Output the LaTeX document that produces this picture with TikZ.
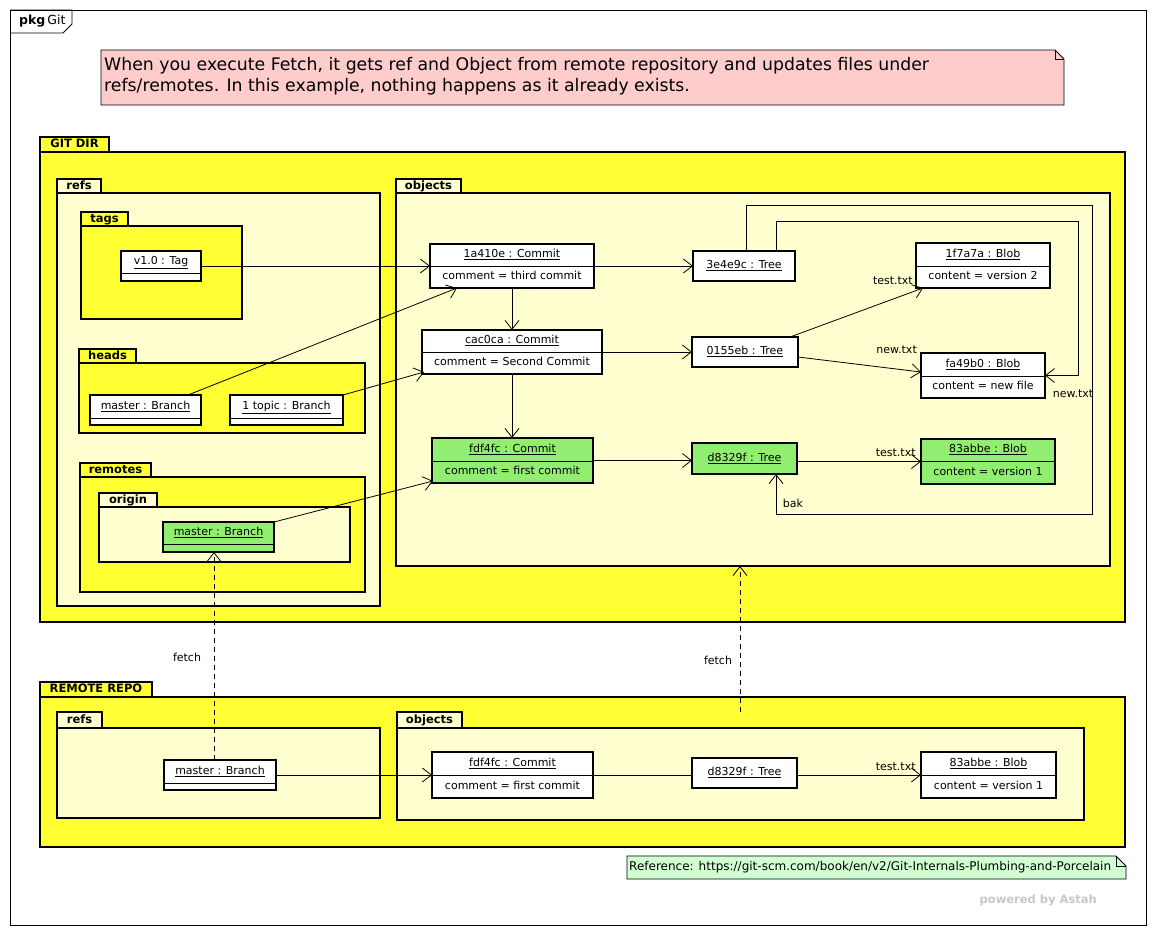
\documentclass[tikz,border=0pt]{standalone}
\usepackage{fontspec}
\setmainfont{DejaVu Sans}
\usetikzlibrary{arrows.meta,calc}
\definecolor{pyel}{RGB}{255,255,51}
\definecolor{plight}{RGB}{255,255,208}
\definecolor{ogreen}{RGB}{145,238,112}
\definecolor{npink}{RGB}{255,204,204}
\definecolor{ngreen}{RGB}{210,255,210}
\tikzset{
 pkgbody/.style={draw, line width=2pt, inner sep=0pt, outer sep=0pt, anchor=north west},
 pkgtab/.style={draw, line width=2pt, inner sep=0pt, outer sep=0pt, anchor=south west, text height=8.5pt, text depth=2pt, font=\fontsize{11.5}{13}\selectfont\bfseries},
 objbox/.style={draw, line width=1.6pt, inner sep=0pt, outer sep=0pt, anchor=north west},
 objtxt/.style={font=\fontsize{11}{13}\selectfont, inner sep=0pt, text height=8pt, text depth=2.5pt},
 conn/.style={line width=0.8pt},
 arr/.style={conn, -{Straight Barb[length=9pt,width=14pt]}},
 fetcharr/.style={arr, dash pattern=on 5pt off 4pt},
 lbl/.style={font=\fontsize{11}{13}\selectfont, inner sep=0pt},
 notebox/.style={draw, line width=0.8pt},
}
% #1 name, #2 fill, #3 x1, #4 ytab, #5 xtab2, #6 ybody, #7 x2, #8 y2, #9 label
\newcommand{\upkg}[9]{%
 \node[pkgtab, fill=#2, minimum width={#5-#3}, minimum height={#6-#4}] (#1tab) at (#3,#6) {#9};
 \node[pkgbody, fill=#2, minimum width={#7-#3}, minimum height={#8-#6}] (#1) at (#3,#6) {};
}
% #1 name, #2 fill, #3 x1, #4 y1, #5 x2, #6 y2, #7 ydiv, #8 title, #9 attribute
\newcommand{\uobj}[9]{%
 \node[objbox, fill=#2, minimum width={#5-#3}, minimum height={#6-#4}] (#1) at (#3,#4) {};
 \draw[line width=1pt] (#3,#7) -- (#5,#7);
 \node[objtxt] (#1n) at ({(#3+#5)/2},{(#4+#7)/2}) {\underline{#8}};
 \node[objtxt] (#1a) at ({(#3+#5)/2},{(#7+#6)/2}) {#9};
}
\begin{document}
\begin{tikzpicture}[x=1pt,y=-1pt]
\fill[white] (0,0) rectangle (1157,935);
\useasboundingbox (0,0) rectangle (1157,935);
% frame
\draw[line width=0.8pt] (10,10) rectangle (1146,925);
\draw[line width=0.8pt] (10,10) -- (72,10) -- (72,24) -- (63,33) -- (10,33);
\node[anchor=west, inner sep=0pt, font=\fontsize{12.5}{14}\selectfont] (pkglbl) at (19,21.5) {\textbf{pkg}\,Git};
% top note
\draw[notebox, fill=npink] (101,50) -- (1055,50) -- (1064,59) -- (1064,105) -- (101,105) -- cycle;
\draw[line width=0.8pt] (1055,50) -- (1055,59) -- (1064,59);
\node[anchor=base west, inner sep=0pt, font=\fontsize{17.3}{21}\selectfont] (note1) at (104,70) {When you execute Fetch, it gets ref and Object from remote repository and updates files under};
\node[anchor=base west, inner sep=0pt, font=\fontsize{17.3}{21}\selectfont] (note2) at (104,91) {refs/remotes. In this example, nothing happens as it already exists.};
% GIT DIR packages
\upkg{gitdir}{pyel}{40}{137}{109}{152}{1125}{622}{GIT DIR}
\upkg{refsA}{plight}{57}{179}{101}{193}{380}{606}{refs}
\upkg{tags}{pyel}{81}{212}{128}{226}{242}{319}{tags}
\upkg{heads}{pyel}{79}{349}{136}{363}{365}{433}{heads}
\upkg{remotes}{pyel}{80}{463}{151}{477}{365}{592}{remotes}
\upkg{origin}{plight}{99}{493}{157}{507}{350}{562}{origin}
\upkg{objA}{plight}{396}{179}{461}{193}{1110}{566}{objects}
% REMOTE REPO packages
\upkg{remote}{pyel}{40}{682}{152}{697}{1125}{847}{REMOTE REPO}
\upkg{refsB}{plight}{57}{712}{102}{728}{380}{818}{refs}
\upkg{objB}{plight}{397}{712}{462}{728}{1084}{820}{objects}
% objects in GIT DIR
\uobj{vt}{white}{121}{251}{201}{281}{273}{v1.0 : Tag}{}
\uobj{mh}{white}{90}{395}{201}{425}{418}{master : Branch}{}
\uobj{tp}{white}{230}{395}{343}{425}{418}{1 topic : Branch}{}
\uobj{om}{ogreen}{163}{522}{274}{552}{544}{master : Branch}{}
\uobj{ca}{white}{430}{244}{594}{288}{266}{1a410e : Commit}{comment = third commit}
\uobj{cb}{white}{422}{330}{602}{374}{352}{cac0ca : Commit}{comment = Second Commit}
\uobj{cc}{ogreen}{432}{438}{593}{483}{461}{fdf4fc : Commit}{comment = first commit}
\uobj{ta}{white}{693}{251}{795}{281}{281}{3e4e9c : Tree}{}
\uobj{tb}{white}{692}{337}{798}{367}{367}{0155eb : Tree}{}
\uobj{tc}{ogreen}{692}{443}{797}{474}{474}{d8329f : Tree}{}
\uobj{ba}{white}{916}{243}{1050}{288}{266}{1f7a7a : Blob}{content = version 2}
\uobj{bb}{white}{921}{353}{1045}{398}{376}{fa49b0 : Blob}{content = new file}
\uobj{bc}{ogreen}{921}{439}{1055}{484}{461}{83abbe : Blob}{content = version 1}
% objects in REMOTE REPO
\uobj{rm}{white}{164}{760}{276}{790}{783}{master : Branch}{}
\uobj{rc}{white}{432}{752}{593}{798}{775}{fdf4fc : Commit}{comment = first commit}
\uobj{rt}{white}{692}{758}{797}{788}{788}{d8329f : Tree}{}
\uobj{rb}{white}{921}{752}{1056}{798}{775}{83abbe : Blob}{content = version 1}
% connectors GIT DIR
\draw[arr] (vt.east) -- (vt.east -| ca.west);
\draw[arr] ([shift={(-13,0)}]mh.north east) -- ([shift={(27,0)}]ca.south west);
\draw[arr] (tp.north east) -- ([shift={(2,-2)}]cb.south west);
\draw[arr] (om.north east) -- ([shift={(1,-2)}]cc.south west);
\draw[arr] (ca.south) -- (ca.south |- cb.north);
\draw[arr] (cb.south) -- (cb.south |- cc.north);
\draw[arr] (ca.east) -- (ca.east -| ta.west);
\draw[arr] (cb.east) -- (cb.east -| tb.west);
\draw[arr] (cc.east) -- (cc.east -| tc.west);
\draw[arr] (bc.west -| tc.east) -- (bc.west) node[lbl, pos=1, anchor=south east, xshift=-5pt, yshift=4pt] (l1) {test.txt};
\draw[arr] ([shift={(-8,0)}]tb.north east) -- ([shift={(7,0)}]ba.south west);
\node[lbl, anchor=east] (l2) at (913,281) {test.txt};
\draw[arr] ([shift={(0,5)}]tb.east) -- ([shift={(0,-3.5)}]bb.west);
\node[lbl, anchor=east] (l3) at (917,350) {new.txt};
\draw[arr] ([shift={(2,0)}]ta.north) -- ++(0,-46) -- (1092,205) -- (1092,514) -| ([shift={(31.5,0)}]tc.south);
\node[lbl] (l4) at (793,503) {bak};
\draw[arr] ([shift={(32,0)}]ta.north) |- (1078,221) |- (bb.east);
\node[lbl] (l5) at (1073,394) {new.txt};
% connectors REMOTE REPO
\draw[arr] (rm.east) -- (rm.east -| rc.west);
\draw[conn] (rc.east) -- (rc.east -| rt.west);
\draw[arr] (rb.west -| rt.east) -- (rb.west) node[lbl, pos=1, anchor=south east, xshift=-5pt, yshift=4pt] (l6) {test.txt};
% fetch
\coordinate (f1s) at (214,760);
\draw[fetcharr] (f1s) -- (f1s |- om.south);
\node[lbl] (l7) at (187,657) {fetch};
\coordinate (f2s) at (740,712);
\draw[fetcharr] (f2s) -- (f2s |- objA.south);
\node[lbl] (l8) at (718,660) {fetch};
% reference note
\draw[notebox, fill=ngreen] (627,856) -- (1116,856) -- (1126,866) -- (1126,879) -- (627,879) -- cycle;
\draw[line width=0.8pt] (1116,856) -- (1116,866) -- (1126,866);
\node[anchor=west, inner sep=0pt, font=\fontsize{12}{13}\selectfont] (refnote) at (629,867.5) {Reference: https://git-scm.com/book/en/v2/Git-Internals-Plumbing-and-Porcelain};
\node[anchor=east, inner sep=0pt, text=black!22, font=\fontsize{11.5}{13}\selectfont\bfseries] (astah) at (1097,900) {powered by Astah};
\end{tikzpicture}
\end{document}
